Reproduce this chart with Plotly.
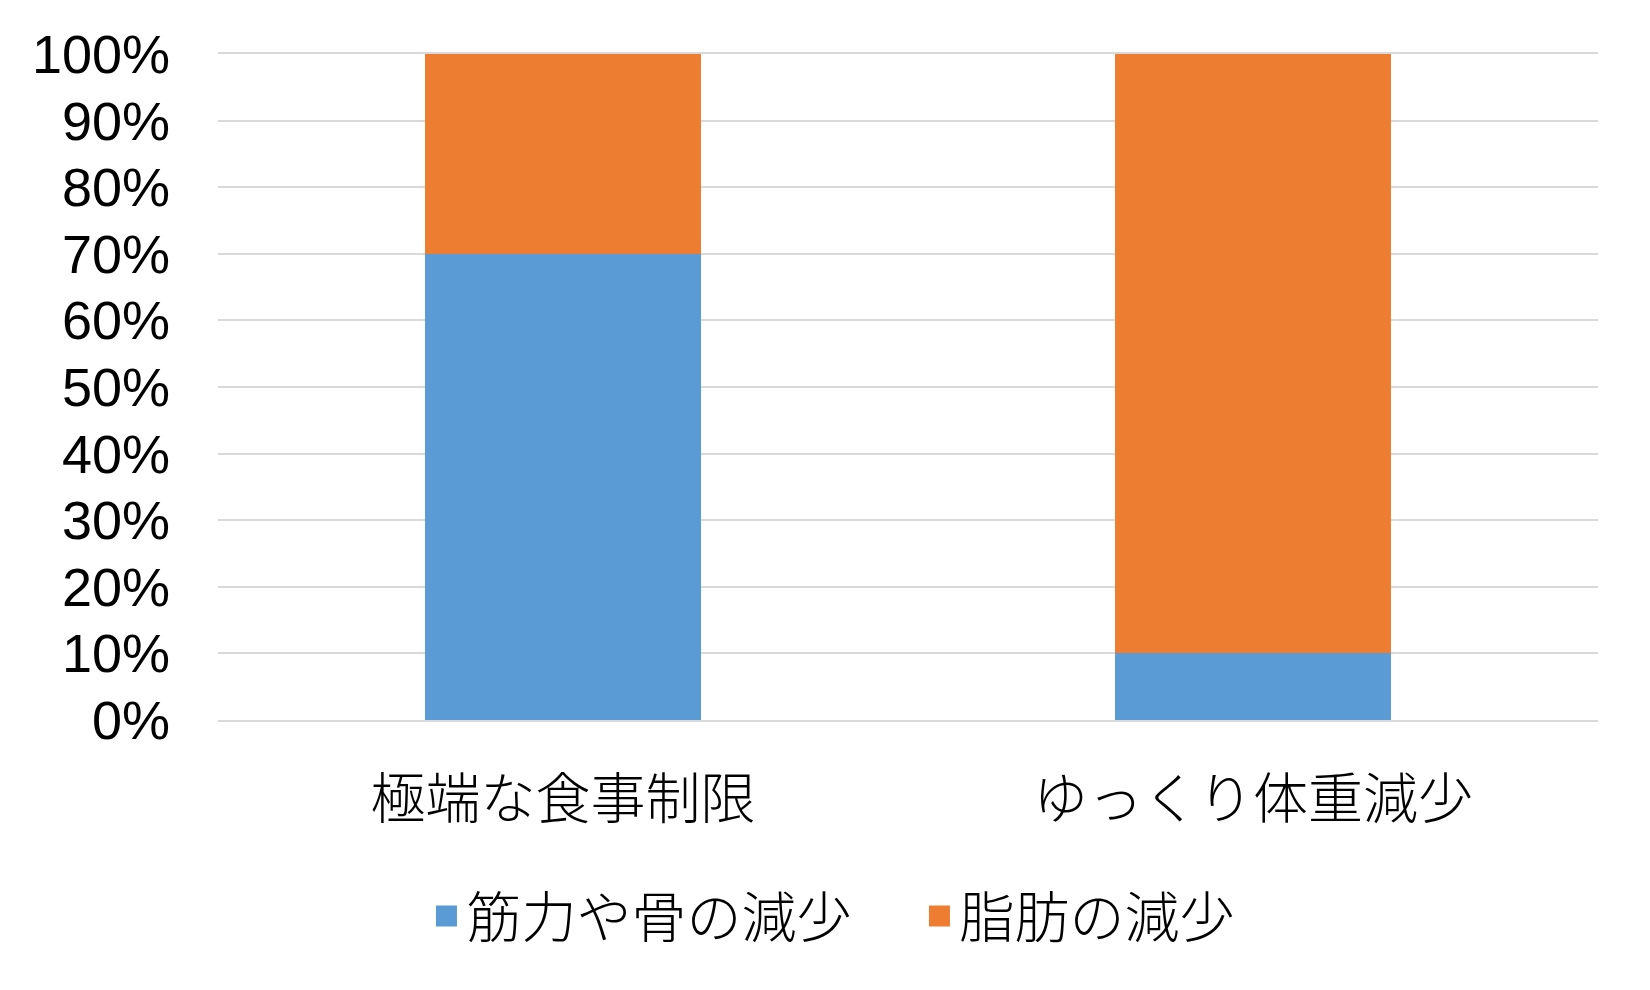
import plotly.graph_objects as go

categories = ["極端な食事制限", "ゆっくり体重減少"]
series_names = ["筋力や骨の減少", "脂肪の減少"]
muscle_bone = [70, 10]
fat = [30, 90]
colors = ["#5B9BD5", "#ED7D31"]
y_ticks = list(range(0, 101, 10))
y_tick_labels = [f"{v}%" for v in y_ticks]

JP = "Noto Sans CJK JP"

fig = go.Figure()
for name, vals, col in zip(series_names, [muscle_bone, fat], colors):
    fig.add_trace(go.Bar(x=categories, y=vals, name=name, showlegend=False,
                         marker=dict(color=col, line=dict(width=0))))
# legend entries with larger square swatches
for name, col in zip(series_names, colors):
    fig.add_trace(go.Scatter(x=[None], y=[None], mode="markers", name=name,
                             marker=dict(symbol="square", size=22, color=col,
                                         line=dict(color=col, width=5))))

fig.update_layout(
    barmode="stack",
    bargap=0.6,
    width=1650, height=990,
    margin=dict(l=218, r=52, t=54, b=270),
    paper_bgcolor="white", plot_bgcolor="white",
    font=dict(family="Liberation Sans, Arial, " + JP, size=54, color="black"),
    legend=dict(orientation="h", xanchor="center", x=0.5083, yanchor="middle", y=-0.2945,
                font=dict(family=JP, size=55, color="black", weight=300),
                traceorder="normal", itemsizing="trace",
                entrywidth=448, entrywidthmode="pixels"),
    showlegend=True,
)
fig.update_yaxes(range=[0, 100], tickvals=y_ticks, ticktext=y_tick_labels,
                 showgrid=True, gridcolor="#d9d9d9", gridwidth=2, zeroline=False,
                 showline=False, ticks="", ticklabelstandoff=47,
                 tickfont=dict(family="Liberation Sans, Arial", size=54))
fig.update_xaxes(showgrid=False, showline=True, mirror=True, linecolor="#d9d9d9", linewidth=2,
                 layer="below traces", ticks="", ticklabelstandoff=30,
                 tickfont=dict(family=JP, size=55, weight=300))

fig.write_html("out.html")
